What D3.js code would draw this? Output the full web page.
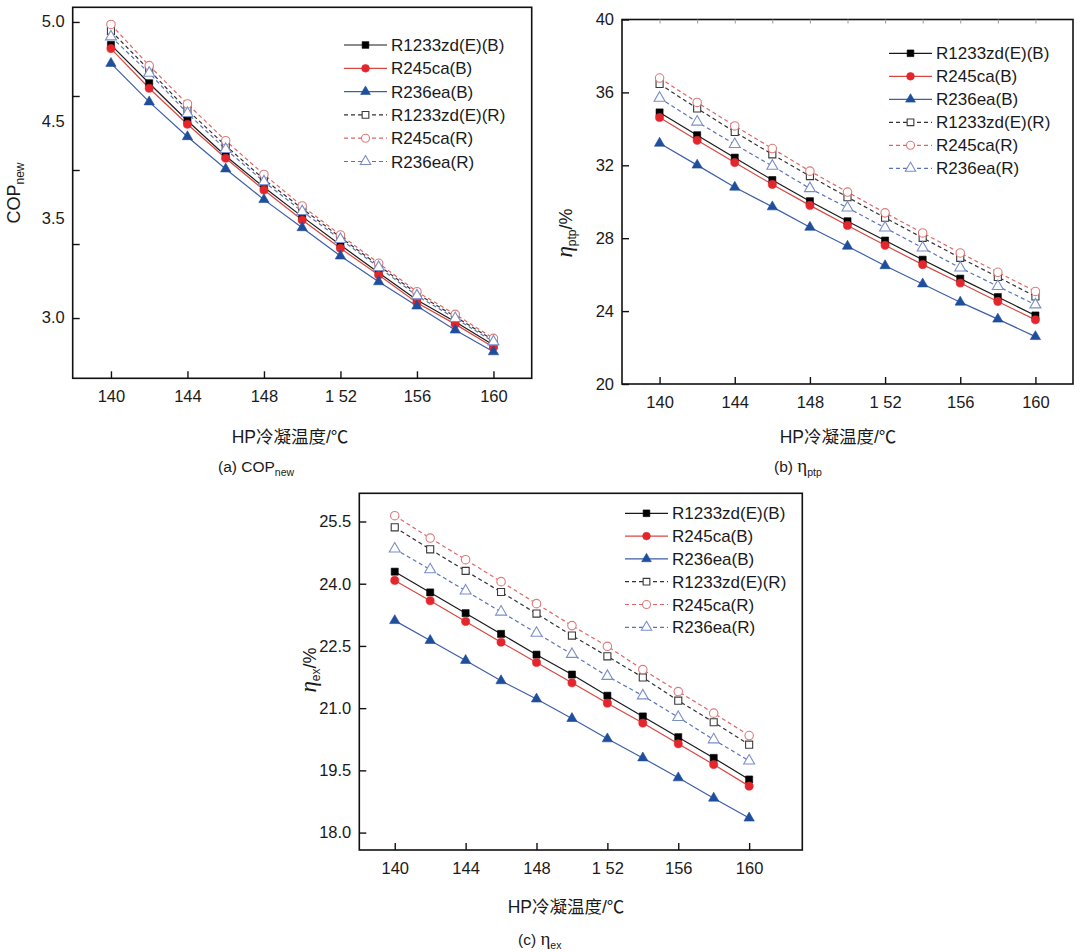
<!DOCTYPE html>
<html>
<head>
<meta charset="utf-8">
<script src="https://cdn.jsdelivr.net/npm/d3@7"></script>
<style>
  body { margin: 0; background: #fff; }
  svg text { font-family: "Liberation Sans", Arial, sans-serif; fill: #1a1a1a; }
  .cjk { font-family: "Liberation Sans", "Noto Sans CJK SC", sans-serif; }
</style>
</head>
<body>
<svg id="chart" width="1080" height="952"></svg>
<script>
// HP condensing temperature, same for all panels
const temps = [140, 142, 144, 146, 148, 150, 152, 154, 156, 158, 160];
const xTickValues = [140, 144, 148, 152, 156, 160];
const xTickLabels = ["140", "144", "148", "1 52", "156", "160"];

const seriesNames = ["R1233zd(E)(B)", "R245ca(B)", "R236ea(B)", "R1233zd(E)(R)", "R245ca(R)", "R236ea(R)"];

// (a) COP_new
const copR1233B  = [4.845, 4.586, 4.333, 4.095, 3.883, 3.685, 3.493, 3.306, 3.122, 2.975, 2.818];
const copR245caB = [4.82, 4.552, 4.309, 4.079, 3.865, 3.662, 3.471, 3.291, 3.104, 2.959, 2.802];
const copR236eaB = [4.72, 4.46, 4.225, 4.007, 3.80, 3.61, 3.419, 3.245, 3.081, 2.919, 2.772];
const copR1233R  = [4.94, 4.675, 4.405, 4.164, 3.937, 3.74, 3.545, 3.355, 3.165, 3.01, 2.85];
const copR245caR = [4.983, 4.705, 4.446, 4.198, 3.97, 3.757, 3.561, 3.37, 3.178, 3.025, 2.863];
const copR236eaR = [4.90, 4.655, 4.383, 4.14, 3.921, 3.72, 3.532, 3.343, 3.151, 2.998, 2.84];
const copTickValues = [3.0, 3.5, 4.0, 4.5, 5.0];
// the printed labels do not sit on the tick marks in the source figure
const copTickLabels = ["5.0", "4.5", "3.5", "3.0"];
const copTickLabelAt = [5.0, 4.324, 3.669, 3.0];

// (b) eta_ptp
const ptpR1233B  = [34.90, 33.65, 32.42, 31.19, 30.03, 28.93, 27.87, 26.82, 25.78, 24.77, 23.76];
const ptpR245caB = [34.62, 33.37, 32.15, 30.95, 29.80, 28.70, 27.61, 26.55, 25.54, 24.53, 23.52];
const ptpR236eaB = [33.21, 32.01, 30.80, 29.72, 28.60, 27.56, 26.49, 25.49, 24.49, 23.56, 22.60];
const ptpR1233R  = [36.46, 35.12, 33.83, 32.60, 31.41, 30.25, 29.12, 28.02, 26.92, 25.87, 24.80];
const ptpR245caR = [36.79, 35.45, 34.16, 32.92, 31.68, 30.53, 29.39, 28.29, 27.19, 26.13, 25.08];
const ptpR236eaR = [35.69, 34.38, 33.15, 31.96, 30.73, 29.67, 28.57, 27.47, 26.37, 25.36, 24.35];
const ptpTickValues = [20, 24, 28, 32, 36, 40];

// (c) eta_ex
const exR1233B  = [24.29, 23.79, 23.29, 22.79, 22.29, 21.81, 21.30, 20.80, 20.30, 19.80, 19.28];
const exR245caB = [24.08, 23.59, 23.09, 22.59, 22.10, 21.61, 21.12, 20.64, 20.14, 19.64, 19.12];
const exR236eaB = [23.11, 22.63, 22.15, 21.66, 21.22, 20.75, 20.26, 19.80, 19.32, 18.83, 18.35];
const exR1233R  = [25.36, 24.83, 24.31, 23.80, 23.28, 22.75, 22.25, 21.74, 21.18, 20.66, 20.12];
const exR245caR = [25.64, 25.10, 24.58, 24.05, 23.52, 22.99, 22.49, 21.93, 21.40, 20.88, 20.34];
const exR236eaR = [24.84, 24.34, 23.83, 23.32, 22.81, 22.30, 21.77, 21.30, 20.78, 20.24, 19.73];
const exTickValues = [18.0, 19.5, 21.0, 22.5, 24.0, 25.5];

// line / marker look for each series, same order as seriesNames
const STYLES = [
    {line: "#1a1a1a", mark: "#000000", fill: true,  dash: null,  symbol: d3.symbolSquare,   size: 50},
    {line: "#d9473f", mark: "#e3262b", fill: true,  dash: null,  symbol: d3.symbolCircle,   size: 52},
    {line: "#3d5fa8", mark: "#1f4e9c", fill: true,  dash: null,  symbol: d3.symbolTriangle, size: 46},
    {line: "#333333", mark: "#3a3a3a", fill: false, dash: "4,3", symbol: d3.symbolSquare,   size: 50},
    {line: "#e06666", mark: "#e07a7a", fill: false, dash: "4,3", symbol: d3.symbolCircle,   size: 56},
    {line: "#5a74b8", mark: "#7b8ec8", fill: false, dash: "4,3", symbol: d3.symbolTriangle, size: 52}
];

const svg = d3.select("#chart");

function drawPanel(p) {
    const g = svg.append("g");
    const x = d3.scaleLinear().domain(p.xDomain).range([p.left, p.right]);
    const y = d3.scaleLinear().domain(p.yDomain).range([p.bottom, p.top]);

    // frame
    g.append("rect")
        .attr("x", p.left).attr("y", p.top)
        .attr("width", p.right - p.left).attr("height", p.bottom - p.top)
        .attr("fill", "none").attr("stroke", "#111").attr("stroke-width", 1.6);

    if (p.topTicks) {
        g.append("g")
            .attr("transform", "translate(0," + p.top + ")")
            .call(d3.axisTop(x).tickValues(temps).tickSizeInner(-4).tickSizeOuter(0).tickFormat(""))
            .call(a => a.select(".domain").remove())
            .call(a => a.selectAll("line").attr("stroke", "#999"));
    }

    // x axis, inward ticks
    g.append("g")
        .attr("transform", "translate(0," + p.bottom + ")")
        .call(d3.axisBottom(x).tickValues(xTickValues).tickSizeInner(-7).tickSizeOuter(0)
            .tickPadding(12).tickFormat((d, i) => xTickLabels[i]))
        .call(a => a.select(".domain").remove())
        .call(a => a.selectAll("line").attr("stroke", "#111").attr("stroke-width", 1.4))
        .call(a => a.selectAll("text").attr("font-size", 16.5).attr("font-family", "Liberation Sans, Arial"));

    // y axis, inward ticks
    const yAxis = d3.axisLeft(y).tickValues(p.yTicks).tickSizeInner(-7).tickSizeOuter(0).tickPadding(8);
    if (p.yLabels) yAxis.tickFormat("");
    else yAxis.tickFormat(p.yFormat);
    g.append("g")
        .attr("transform", "translate(" + p.left + ",0)")
        .call(yAxis)
        .call(a => a.select(".domain").remove())
        .call(a => a.selectAll("line").attr("stroke", "#111").attr("stroke-width", 1.4))
        .call(a => a.selectAll("text").attr("font-size", 16.5).attr("font-family", "Liberation Sans, Arial"));
    if (p.yLabels) {
        g.selectAll(".ylab")
            .data(p.yLabels)
            .enter()
            .append("text")
            .attr("class", "ylab")
            .attr("x", p.left - 8)
            .attr("y", (d, i) => y(p.yLabelAt[i]))
            .attr("dy", "0.32em")
            .attr("text-anchor", "end")
            .attr("font-size", 16.5)
            .text(d => d);
    }

    // series
    const line = d3.line().x((d, i) => x(temps[i])).y(d => y(d));
    p.series.forEach((vals, k) => {
        const st = STYLES[k];
        g.append("path")
            .datum(vals)
            .attr("d", line)
            .attr("fill", "none")
            .attr("stroke", st.line)
            .attr("stroke-width", 1.2)
            .attr("stroke-dasharray", st.dash);
    });
    p.series.forEach((vals, k) => {
        const st = STYLES[k];
        const sym = d3.symbol().type(st.symbol).size(st.size);
        g.selectAll(".m" + k)
            .data(vals)
            .enter()
            .append("path")
            .attr("class", "m" + k)
            .attr("transform", (d, i) => "translate(" + x(temps[i]) + "," + y(d) + ")")
            .attr("d", sym)
            .attr("fill", st.fill ? st.mark : "#fff")
            .attr("stroke", st.mark)
            .attr("stroke-width", st.fill ? 0.6 : 1.1);
    });

    // legend
    const lg = g.append("g");
    seriesNames.forEach((name, k) => {
        const st = STYLES[k];
        const ly = p.legend.y + k * p.legend.step;
        lg.append("line")
            .attr("x1", p.legend.x).attr("x2", p.legend.x + 43)
            .attr("y1", ly).attr("y2", ly)
            .attr("stroke", st.line).attr("stroke-width", 1.2)
            .attr("stroke-dasharray", st.dash);
        lg.append("path")
            .attr("transform", "translate(" + (p.legend.x + 21.5) + "," + ly + ")")
            .attr("d", d3.symbol().type(st.symbol).size(st.size * 0.9))
            .attr("fill", st.fill ? st.mark : "#fff")
            .attr("stroke", st.mark)
            .attr("stroke-width", st.fill ? 0.6 : 1.1);
        lg.append("text")
            .attr("x", p.legend.x + 47)
            .attr("y", ly)
            .attr("dy", "0.36em")
            .attr("font-size", 17)
            .text(name);
    });

    // x label
    g.append("text")
        .attr("class", "cjk")
        .attr("x", p.xLabel.x).attr("y", p.xLabel.y)
        .attr("text-anchor", "middle")
        .attr("dy", "0.36em")
        .attr("font-size", 17.5)
        .text("HP冷凝温度/℃");

    // y label (rotated)
    const yl = g.append("text")
        .attr("transform", "translate(" + p.yLabel.x + "," + p.yLabel.y + ") rotate(-90)")
        .attr("text-anchor", "middle")
        .attr("font-size", 18);
    yl.append("tspan")
        .attr("font-family", p.yLabel.greek ? "Liberation Serif, serif" : null)
        .attr("font-style", p.yLabel.greek ? "italic" : null)
        .attr("font-size", p.yLabel.greek ? 23 : 18)
        .text(p.yLabel.main);
    yl.append("tspan").attr("font-size", 12).attr("dy", 4).text(p.yLabel.sub);
    if (p.yLabel.tail) yl.append("tspan").attr("dy", -4).text(p.yLabel.tail);

    // caption
    const cap = g.append("text")
        .attr("x", p.caption.x).attr("y", p.caption.y)
        .attr("font-size", 15.5);
    cap.append("tspan").text(p.caption.main);
    if (p.caption.greek) {
        cap.append("tspan").attr("font-family", "Liberation Serif, serif").attr("font-size", 19).text(p.caption.greek);
    }
    cap.append("tspan").attr("font-size", 10.5).attr("dy", 4).text(p.caption.sub);
}

drawPanel({
    left: 72.7, right: 531.7, top: 7.3, bottom: 378.3,
    xDomain: [138, 162], yDomain: [2.593, 5.099],
    yTicks: copTickValues, yLabels: copTickLabels, yLabelAt: copTickLabelAt,
    series: [copR1233B, copR245caB, copR236eaB, copR1233R, copR245caR, copR236eaR],
    legend: {x: 344, y: 45, step: 23.3},
    xLabel: {x: 290, y: 437},
    yLabel: {x: 20, y: 193, main: "COP", sub: "new"},
    caption: {x: 218, y: 472, main: "(a) COP", sub: "new"}
});

drawPanel({
    left: 622, right: 1073, top: 19.5, bottom: 384,
    xDomain: [138, 162], yDomain: [20, 40],
    yTicks: ptpTickValues, yFormat: d3.format("d"), topTicks: true,
    series: [ptpR1233B, ptpR245caB, ptpR236eaB, ptpR1233R, ptpR245caR, ptpR236eaR],
    legend: {x: 889, y: 53.3, step: 23},
    xLabel: {x: 838, y: 437},
    yLabel: {x: 572, y: 233, main: "η", sub: "ptp", tail: "/%", greek: true},
    caption: {x: 774, y: 472, main: "(b) ", greek: "η", sub: "ptp"}
});

drawPanel({
    left: 359.3, right: 802.3, top: 493.3, bottom: 850,
    xDomain: [138, 163], yDomain: [17.58, 26.18],
    yTicks: exTickValues, yFormat: d3.format(".1f"),
    series: [exR1233B, exR245caB, exR236eaB, exR1233R, exR245caR, exR236eaR],
    legend: {x: 625, y: 513.3, step: 22.8},
    xLabel: {x: 566, y: 907},
    yLabel: {x: 316, y: 670, main: "η", sub: "ex", tail: "/%", greek: true},
    caption: {x: 518, y: 945, main: "(c) ", greek: "η", sub: "ex"}
});
</script>
</body>
</html>
